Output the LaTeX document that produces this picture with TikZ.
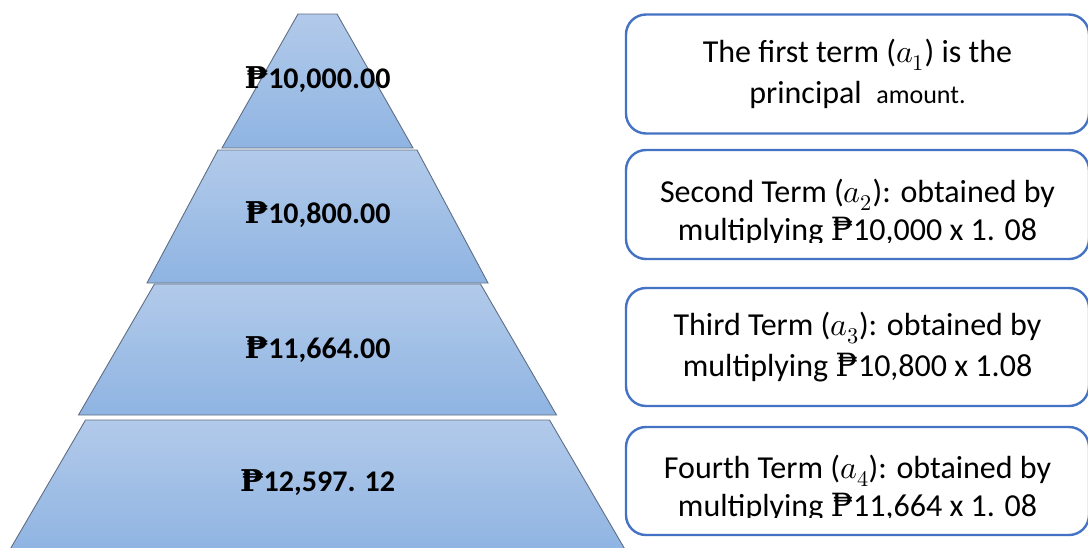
\documentclass[tikz,border=0pt]{standalone}
\usepackage{fontspec}
\setmainfont{Carlito}
\usepackage{unicode-math}
\newfontfamily\pesofont{DejaVu Serif}
\newcommand{\peso}{{\pesofont ₱}}
\definecolor{pyrtop}{RGB}{178,202,234}
\definecolor{pyrbot}{RGB}{143,180,226}
\definecolor{pyredge}{RGB}{95,110,132}
\definecolor{boxblue}{RGB}{68,114,196}

\begin{document}
\begin{tikzpicture}[x=1pt, y=-1pt,
  layer/.style={top color=pyrtop, bottom color=pyrbot, draw=pyredge, line width=0.9pt},
  amount/.style={font=\fontsize{30}{36}\selectfont\bfseries},
  termbox/.style={draw=boxblue, line width=2.4pt, rounded corners=20pt, fill=white,
                  minimum width=463pt, align=center, inner sep=0pt,
                  font=\fontsize{32}{41}\selectfont},
  termtext/.style={align=center, inner sep=0pt, font=\fontsize{32}{37.5}\selectfont}]
  \useasboundingbox (0,0) rectangle (1088,547);

  % pyramid layers
  \foreach \n/\ty/\by/\tw/\bw/\ly/\amt in {1/14/148/19.5/95.5/80/{10,000.00},
                                          2/150/283/99.5/170.5/215/{10,800.00},
                                          3/284/415/163/239/350/{11,664.00},
                                          4/420/552/232/309/483/{12,597. 12}}
  {
    \path[layer] (317.5-\tw,\ty) -- (317.5+\tw,\ty) -- (317.5+\bw,\by) -- (317.5-\bw,\by) -- cycle;
    \node[amount] (v\n) at (317.5,\ly) {\peso\amt};
  }

  % explanation boxes
  \node[termbox, minimum height=119pt] (t1) at (857.5,74)
    {The first term ($a_1$) is the\\ principal~ {\fontsize{26}{41}\selectfont amount.}};
  \node[termbox, minimum height=109pt] (t2) at (857.5,204.5) {};
  \node[termbox, minimum height=118pt] (t3) at (857.5,347)
    {Third Term ($a_3$): obtained by\\ multiplying \peso10,800 x 1.08};
  \node[termbox, minimum height=108pt] (t4) at (857.5,481) {};

  % lower lines cut off at the baseline
  \begin{scope}
    \clip (630,155) rectangle (1085,242);
    \node[termtext] (t2text) at (857.5,212.5)
      {Second Term ($a_2$): obtained by\\ multiplying \peso10,000 x 1. 08};
  \end{scope}
  \begin{scope}
    \clip (630,430) rectangle (1085,517);
    \node[termtext] (t4text) at (857.5,488.5)
      {Fourth Term ($a_4$): obtained by\\ multiplying \peso11,664 x 1. 08};
  \end{scope}
\end{tikzpicture}
\end{document}
